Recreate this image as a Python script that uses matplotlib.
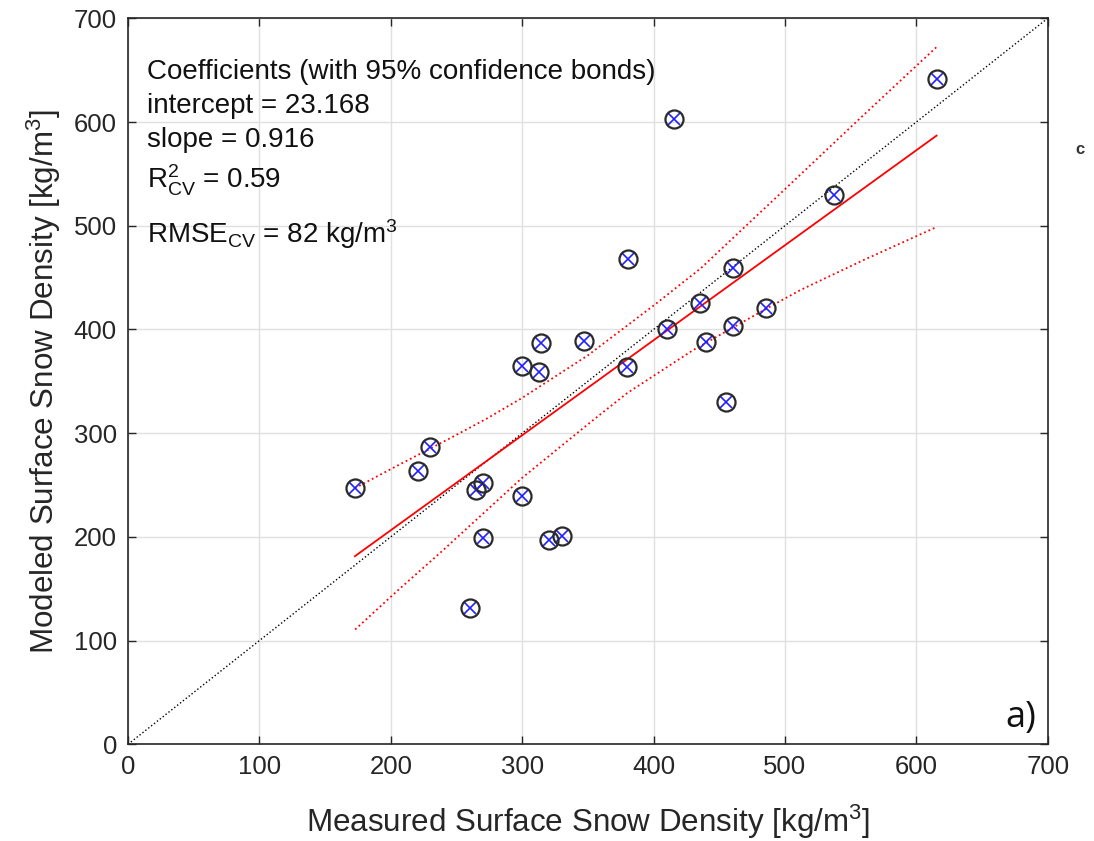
import matplotlib
matplotlib.use("Agg")
import matplotlib.pyplot as plt
import numpy as np

plt.rcParams['font.family'] = ['Liberation Sans', 'DejaVu Sans']
plt.rcParams['mathtext.fontset'] = 'custom'
plt.rcParams['mathtext.rm'] = 'Liberation Sans'
plt.rcParams['mathtext.it'] = 'Liberation Sans'

# ---- data ----
measured = [172.7, 220.6, 230.0, 260.0, 264.8, 270.2, 270.2, 300.1, 300.1, 312.8,
            314.3, 320.1, 330.3, 347.3, 379.8, 380.3, 410.3, 415.3, 435.1, 440.2,
            455.5, 460.3, 460.3, 485.4, 537.2, 615.4]
modeled = [246.8, 263.8, 286.3, 131.2, 244.9, 251.8, 198.7, 364.9, 239.0, 359.4,
           387.4, 197.4, 200.6, 389.0, 363.4, 467.6, 400.8, 602.7, 425.9, 388.3,
           329.6, 459.3, 403.4, 420.4, 529.6, 641.0]

intercept = 23.168
slope = 0.916

upper_x = [172.7, 207.0, 245.0, 273.0, 300.0, 350.0, 400.0, 436.0, 499.0, 555.0, 616.0]
upper_y = [247.0, 270.0, 295.0, 314.0, 334.0, 375.0, 423.0, 459.0, 534.0, 601.0, 673.0]
lower_x = [172.9, 205.0, 237.6, 299.9, 354.4, 380.0, 430.0, 486.4, 511.8, 560.0, 615.9]
lower_y = [110.7, 148.0, 184.6, 256.8, 313.0, 338.7, 380.0, 420.4, 438.0, 467.0, 499.0]

identity = [0, 700]
ticks = [0, 100, 200, 300, 400, 500, 600, 700]

text_lines = ["Coefficients (with 95% confidence bonds)",
              "intercept = 23.168",
              "slope = 0.916",
              r"R$\mathregular{^2_{CV}}$ = 0.59",
              r"RMSE$\mathregular{_{CV}}$ = 82 kg/m$\mathregular{^3}$"]

# ---- figure ----
W, H = 1094, 841
fig = plt.figure(figsize=(W / 100, H / 100), dpi=100)
ax = fig.add_axes([128 / W, 1 - 744.3 / H, (1047.7 - 128) / W, (744.3 - 18.3) / H])

dark = '#262626'
ax.plot(identity, identity, ls=':', color='k', lw=1.0, zorder=2)

xf = np.array([min(measured), max(measured)])
ax.plot(xf, intercept + slope * xf, color='red', lw=1.3, zorder=3)
ax.plot(upper_x, upper_y, ls=':', color='red', lw=1.3, zorder=3)
ax.plot(lower_x, lower_y, ls=':', color='red', lw=1.3, zorder=3)

ax.plot(measured, modeled, ls='none', marker='x', color='#2020ff', ms=8.5, mew=1.2, zorder=4)
ax.plot(measured, modeled, ls='none', marker='o', mfc='none', mec='#2a2a2a', ms=13, mew=1.6, zorder=5)

ax.set_xlim(0, 700)
ax.set_ylim(0, 700)
ax.set_xticks(ticks)
ax.set_yticks(ticks)
ax.grid(True, color='#e0e0e0', lw=1.0)
ax.set_axisbelow(True)
ax.tick_params(direction='in', length=6, width=1.0, colors=dark, labelsize=18.5,
               top=True, right=True, pad=8)
for sp in ax.spines.values():
    sp.set_color(dark)
    sp.set_linewidth(1.2)

ax.set_xlabel(r"Measured Surface Snow Density [kg/m$\mathregular{^3}$]", fontsize=22.6, color=dark, labelpad=17)
ax.set_ylabel(r"Modeled Surface Snow Density [kg/m$\mathregular{^3}$]", fontsize=22.6, color=dark, labelpad=8)

baselines = [79.3, 113.3, 146.7, 188.3, 243.3]
for t, b in zip(text_lines, baselines):
    fig.text(147 / W, 1 - b / H, t, fontsize=20, color='#111111', va='baseline', ha='left')

fig.text(1036 / W, 1 - 727 / H, "a)", fontsize=26, family='Open Sans', color='#111111',
         va='baseline', ha='right')
fig.text(1080 / W, 1 - 150 / H, "c", fontsize=12, fontweight='bold', color='#333333',
         va='center', ha='center')

fig.savefig("out.png", dpi=100)
